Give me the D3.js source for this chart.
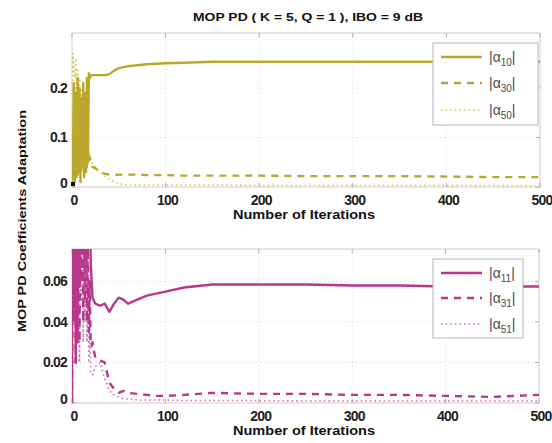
<!DOCTYPE html>
<html><head><meta charset="utf-8">
<script src="https://cdn.jsdelivr.net/npm/d3@7"></script>
<style>body{margin:0;background:#fff}svg{display:block}</style>
</head><body>
<svg id="c" width="552" height="443"></svg>
<script>
// ---- data ----
const titleText = "MOP PD ( K = 5, Q = 1 ), IBO = 9 dB";
const xLabel = "Number of Iterations";
const yLabel = "MOP PD Coefficients Adaptation";
const xTicks = [0, 100, 200, 300, 400, 500];
const yTicksTop = [0, 0.1, 0.2];
const yTicksBottom = [0, 0.02, 0.04, 0.06];
const yTickLabelsTop = ["0", "0.1", "0.2"];
const yTickLabelsBottom = ["0", "0.02", "0.04", "0.06"];
const iterations = [0,1,2,3,4,5,6,7,8,9,10,11,12,13,14,15,16,17,18,19,20,21,22,
  25,30,35,40,45,50,55,60,70,80,90,100,120,150,200,250,300,350,400,450,500];
const alpha10 = [0,0.06,0.21,0.01,0.19,0.02,0.22,0.03,0.2,0.01,0.18,0.04,0.21,0.02,0.19,0.03,0.22,0.05,0.23,0.22,0.225,0.226,0.226,
  0.226,0.226,0.226,0.228,0.235,0.24,0.242,0.244,0.246,0.248,0.249,0.25,0.251,0.253,0.253,0.253,0.253,0.253,0.253,0.253,0.253];
const alpha30 = [0,0.1,0.02,0.17,0.03,0.14,0.02,0.19,0.04,0.11,0.03,0.15,0.05,0.09,0.03,0.12,0.04,0.08,0.05,0.06,0.05,0.045,0.04,
  0.038,0.03,0.027,0.025,0.024,0.025,0.025,0.025,0.025,0.024,0.024,0.024,0.023,0.023,0.023,0.022,0.022,0.022,0.021,0.02,0.02];
const alpha50 = [0,0.27,0.24,0.22,0.26,0.19,0.24,0.17,0.22,0.14,0.2,0.12,0.15,0.1,0.12,0.08,0.09,0.07,0.065,0.06,0.055,0.05,0.047,
  0.04,0.03,0.022,0.016,0.01,0.007,0.005,0.004,0.004,0.004,0.004,0.004,0.004,0.004,0.003,0.003,0.003,0.003,0.003,0.003,0.002];
const alpha11 = [0,0.3,0.1,0.25,0.02,0.2,0.03,0.15,0.06,0.1,0.2,0.3,0.12,0.25,0.1,0.2,0.08,0.15,0.09,0.12,0.07,0.06,0.052,
  0.049,0.048,0.049,0.045,0.049,0.052,0.051,0.049,0.051,0.053,0.054,0.055,0.057,0.0585,0.0585,0.0585,0.058,0.058,0.0575,0.0575,0.0575];
const alpha31 = [0,0.1,0.04,0.15,0.02,0.12,0.05,0.2,0.03,0.1,0.06,0.12,0.04,0.09,0.05,0.1,0.04,0.08,0.035,0.06,0.03,0.028,0.03,
  0.022,0.021,0.02,0.01,0.007,0.005,0.006,0.005,0.0045,0.004,0.0035,0.0035,0.004,0.005,0.0045,0.0045,0.004,0.004,0.0035,0.003,0.004];
const alpha51 = [0,0.15,0.05,0.2,0.03,0.12,0.06,0.18,0.02,0.1,0.05,0.14,0.03,0.08,0.04,0.1,0.03,0.06,0.02,0.04,0.015,0.015,0.014,
  0.018,0.02,0.012,0.006,0.004,0.003,0.002,0.002,0.0015,0.0015,0.0015,0.0015,0.0012,0.0012,0.0012,0.001,0.001,0.001,0.001,0.001,0.001];

const svg = d3.select("#c");
const FONT = "'Liberation Sans', Arial, sans-serif";

const panels = [
  {x0:72, x1:540, y0:33, y1:187, ymax:0.311, yTicks:yTicksTop, yLabels:yTickLabelsTop,
   color:"#baa82c", light:"#d6cc4a",
   series:[{v:alpha10,sub:"10",style:"solid"},{v:alpha30,sub:"30",style:"dash"},{v:alpha50,sub:"50",style:"dot"}],
   legend:{x:433,y:43,w:105,h:82,rows:[57,83,110]}, marker:true},
  {x0:72, x1:539, y0:249, y1:403, ymax:0.076, yTicks:yTicksBottom, yLabels:yTickLabelsBottom,
   color:"#b8378a", light:"#c77aab",
   series:[{v:alpha11,sub:"11",style:"solid"},{v:alpha31,sub:"31",style:"dash"},{v:alpha51,sub:"51",style:"dot"}],
   legend:{x:433,y:259,w:90,h:79,rows:[273,298,324]}, marker:false}
];

function styleLine(sel, s, p){
  if(s.style==="solid") sel.attr("stroke",p.color).attr("stroke-width",2.4);
  else if(s.style==="dash") sel.attr("stroke",p.color).attr("stroke-width",2.4).attr("stroke-dasharray","7,6");
  else sel.attr("stroke",p.light).attr("stroke-width",1.6).attr("stroke-dasharray","1.6,3");
}

panels.forEach((p,i)=>{
  const x = d3.scaleLinear().domain([0,500]).range([p.x0,p.x1]);
  const y = d3.scaleLinear().domain([0,p.ymax]).range([p.y1,p.y0]);
  const g = svg.append("g");
  const cid = "clip"+i;
  svg.append("defs").append("clipPath").attr("id",cid).append("rect")
    .attr("x",p.x0).attr("y",p.y0).attr("width",p.x1-p.x0).attr("height",p.y1-p.y0);

  // grid
  g.selectAll(".gx").data(xTicks.slice(1,-1)).join("line")
    .attr("x1",d=>x(d)).attr("x2",d=>x(d)).attr("y1",p.y0).attr("y2",p.y1)
    .attr("stroke","#d8d8d8").attr("stroke-width",1).attr("stroke-dasharray","1,3");
  g.selectAll(".gy").data(p.yTicks.slice(1)).join("line")
    .attr("x1",p.x0).attr("x2",p.x1).attr("y1",d=>y(d)).attr("y2",d=>y(d))
    .attr("stroke","#d8d8d8").attr("stroke-width",1).attr("stroke-dasharray","1,3");

  // frame
  g.append("rect").attr("x",p.x0).attr("y",p.y0).attr("width",p.x1-p.x0).attr("height",p.y1-p.y0)
    .attr("fill","none").attr("stroke","#d9c8cd").attr("stroke-width",1);

  // inner ticks
  const tk = 4;
  xTicks.forEach(t=>{
    g.append("line").attr("x1",x(t)).attr("x2",x(t)).attr("y1",p.y1).attr("y2",p.y1-tk).attr("stroke","#aaa");
    g.append("line").attr("x1",x(t)).attr("x2",x(t)).attr("y1",p.y0).attr("y2",p.y0+tk).attr("stroke","#aaa");
  });
  p.yTicks.forEach(t=>{
    g.append("line").attr("x1",p.x0).attr("x2",p.x0+tk).attr("y1",y(t)).attr("y2",y(t)).attr("stroke","#aaa");
    g.append("line").attr("x1",p.x1).attr("x2",p.x1-tk).attr("y1",y(t)).attr("y2",y(t)).attr("stroke","#aaa");
  });

  // lines
  const lineGen = d3.line().x((d,j)=>x(iterations[j])).y(d=>y(d));
  const lg = g.append("g").attr("clip-path","url(#"+cid+")");
  p.series.slice().reverse().forEach(s=>{
    const path = lg.append("path").datum(s.v).attr("d",lineGen).attr("fill","none")
      .attr("stroke-linejoin","round");
    styleLine(path,s,p);
  });
  if(p.marker){
    g.append("rect").attr("x",x(0)-1).attr("y",y(0)-5).attr("width",4).attr("height",4).attr("fill","#111");
  }

  // tick labels
  g.selectAll(".xl").data(xTicks).join("text")
    .attr("x",d=>x(d)+2).attr("y",p.y1+18).attr("text-anchor","middle")
    .attr("font-family",FONT).attr("font-weight","bold").attr("font-size",14)
    .attr("letter-spacing","-0.8").attr("fill","#222").text(d=>d);
  g.selectAll(".yl").data(p.yTicks).join("text")
    .attr("x",67).attr("y",(d,j)=>y(d)+(j===0?1:5)).attr("text-anchor","end")
    .attr("font-family",FONT).attr("font-weight","bold").attr("font-size",14)
    .attr("letter-spacing","-0.8").attr("fill","#222").text((d,j)=>p.yLabels[j]);

  // x title
  g.append("text").attr("x",304).attr("y",p.y1+32).attr("text-anchor","middle")
    .attr("font-family",FONT).attr("font-weight","bold").attr("font-size",12)
    .attr("textLength",142).attr("lengthAdjust","spacingAndGlyphs").attr("fill","#111").text(xLabel);

  // legend
  const L = p.legend;
  g.append("rect").attr("x",L.x).attr("y",L.y).attr("width",L.w).attr("height",L.h)
    .attr("fill","#fff").attr("stroke","#b8b8b8").attr("stroke-width",1);
  p.series.forEach((s,j)=>{
    const ry = L.rows[j];
    const ln = g.append("line").attr("x1",L.x+8).attr("x2",L.x+49).attr("y1",ry).attr("y2",ry);
    styleLine(ln,s,p);
    const t = g.append("text").attr("x",L.x+56).attr("y",ry+5)
      .attr("font-family",FONT).attr("font-size",14).attr("fill","#4a4a4a");
    t.append("tspan").text("|α");
    t.append("tspan").attr("font-size",10).attr("dy",4).text(s.sub);
    t.append("tspan").attr("dy",-4).text("|");
  });
});

// title
svg.append("text").attr("x",308).attr("y",21).attr("text-anchor","middle")
  .attr("font-family",FONT).attr("font-weight","bold").attr("font-size",11.5)
  .attr("textLength",230).attr("lengthAdjust","spacingAndGlyphs").attr("fill","#111").text(titleText);

// y title
svg.append("text").attr("transform","translate(26,221) rotate(-90)").attr("text-anchor","middle")
  .attr("font-family",FONT).attr("font-weight","bold").attr("font-size",11.5)
  .attr("textLength",222).attr("lengthAdjust","spacingAndGlyphs").attr("fill","#111").text(yLabel);
</script>
</body></html>
